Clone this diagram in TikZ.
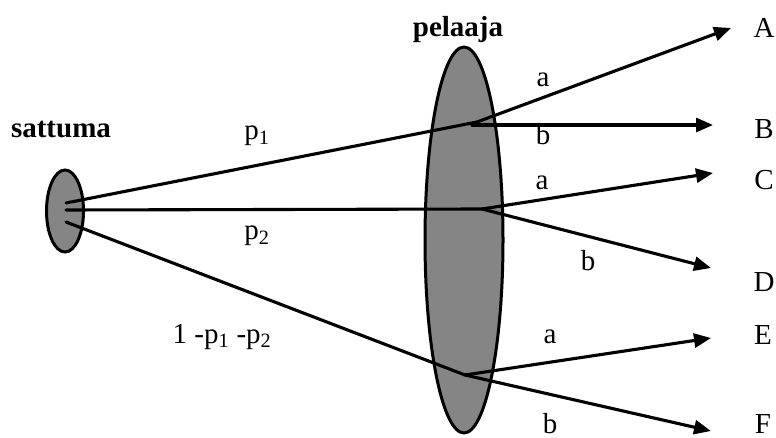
\documentclass[tikz,border=0pt]{standalone}
\usepackage{fontspec}
\setmainfont{Liberation Serif}
\usetikzlibrary{shapes.geometric,arrows.meta}
\tikzset{
  blob/.style={ellipse, draw=black, line width=3pt, fill=black!48, inner sep=0pt},
  edge/.style={line width=3.1pt, line cap=round},
  arr/.style={edge, -{Triangle[length=17pt,width=14pt]}},
  lbl/.style={anchor=base, inner sep=0pt, font=\fontsize{29}{32}\selectfont},
  blbl/.style={lbl, font=\fontsize{29}{32}\selectfont\bfseries}
}
\begin{document}
\begin{tikzpicture}[x=1pt,y=-1pt]
\useasboundingbox (0,0) rectangle (776,438);
% ellipses
\node[blob, minimum width=37pt, minimum height=82pt] (chance) at (65,211) {};
\node[blob, minimum width=78pt, minimum height=386pt] (player) at (464,240) {};
% titles
\node[blbl] (sattuma) at (61,138) {sattuma};
\node[blbl] (pelaaja) at (458,37) {pelaaja};
% start points inside small ellipse
\coordinate (s1) at (66,203);
\coordinate (s2) at (66,210);
\coordinate (s3) at (66,222);
% branch points inside big ellipse
\coordinate (b1) at (477,122);
\coordinate (bB) at (472,125);
\coordinate (b2) at (482,209);
\coordinate (b3) at (465,375);
% arrow tips
\coordinate (tA) at (731,28);
\coordinate (tB) at (713,125);
\coordinate (tC) at (713,173);
\coordinate (tD) at (711,268);
\coordinate (tE) at (711,338);
\coordinate (tF) at (711,431);
% chance moves
\draw[edge] (s1) -- (b1);
\draw[edge] (s2) -- (b2);
\draw[edge] (s3) -- (b3);
% player moves
\draw[arr] (b1) -- (tA);
\draw[arr] (bB) -- (tB);
\draw[arr] (b2) -- (tC);
\draw[arr] (b2) -- (tD);
\draw[arr] (b3) -- (tE);
\draw[arr] (b3) -- (tF);
% probability labels
\node[lbl] (lp1) at (257,140) {p\textsubscript{1}};
\node[lbl] (lp2) at (257,240) {p\textsubscript{2}};
\node[lbl] (lp3) at (222,343) {1 -p\textsubscript{1} -p\textsubscript{2}};
% action labels
\node[lbl] (a1) at (543,87) {a};
\node[lbl] (bb1) at (543,145) {b};
\node[lbl] (a2) at (542,190) {a};
\node[lbl] (bb2) at (588,270) {b};
\node[lbl] (a3) at (550,343) {a};
\node[lbl] (bb3) at (550,433) {b};
% outcomes
\node[lbl] (A) at (764,38) {A};
\node[lbl] (B) at (764,139) {B};
\node[lbl] (C) at (764,190) {C};
\node[lbl] (D) at (764,291) {D};
\node[lbl] (E) at (763,344) {E};
\node[lbl] (F) at (763,433) {F};
\end{tikzpicture}
\end{document}
